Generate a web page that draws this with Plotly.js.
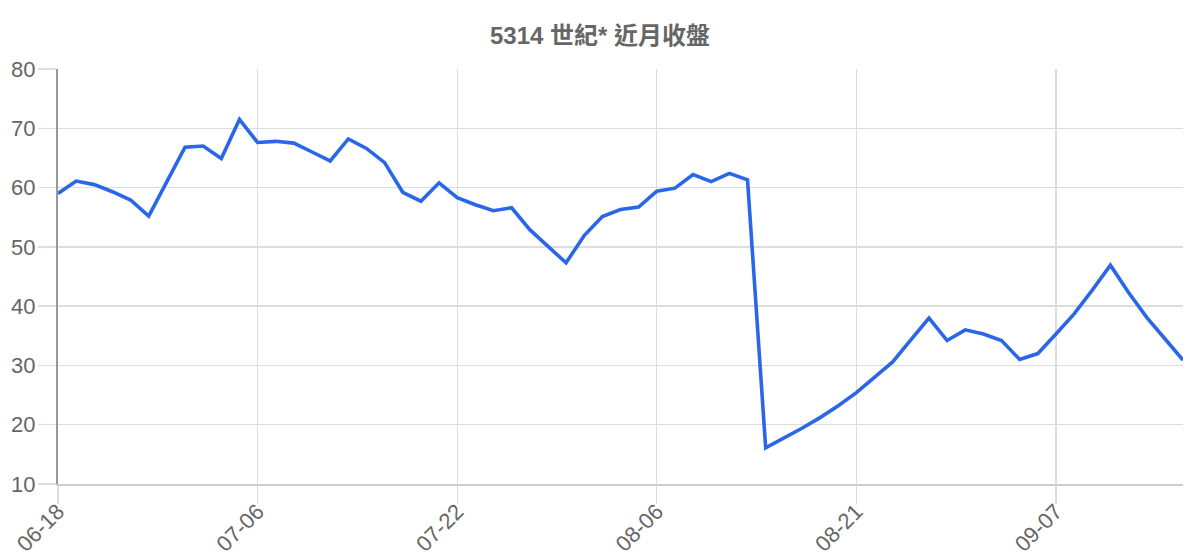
<!DOCTYPE html>
<html>
<head>
<meta charset="utf-8">
<script src="https://cdn.plot.ly/plotly-3.0.1.min.js"></script>
<style>
  html, body { margin: 0; padding: 0; background: #fff; }
  #chart { width: 1200px; height: 560px; }
</style>
</head>
<body>
<div id="chart"></div>
<script>
// trading days shown on the x axis
var dates = [
  "06-18", "06-19", "06-20", "06-21", "06-24", "06-25", "06-26", "06-27", "06-28", "07-01", "07-03",
  "07-06", "07-08", "07-09", "07-10", "07-11", "07-12", "07-15", "07-16", "07-17", "07-18", "07-19",
  "07-22", "07-23", "07-24", "07-25", "07-26", "07-29", "07-30", "07-31", "08-01", "08-02", "08-05",
  "08-06", "08-07", "08-08", "08-09", "08-12", "08-13", "08-14", "08-15", "08-16", "08-19", "08-20",
  "08-21", "08-22", "08-23", "08-26", "08-27", "08-28", "08-29", "08-30", "09-02", "09-03", "09-05",
  "09-07", "09-09", "09-10", "09-11", "09-12", "09-13", "09-16", "09-17"
];

// near-month close
var closes = [
  59.0, 61.1, 60.5, 59.3, 57.9, 55.2, 61.0, 66.8, 67.0, 64.9, 71.5,
  67.6, 67.8, 67.5, 66.0, 64.5, 68.2, 66.6, 64.2, 59.2, 57.7, 60.8,
  58.3, 57.1, 56.1, 56.6, 52.9, 50.2, 47.3, 51.9, 55.1, 56.3, 56.7,
  59.4, 59.9, 62.2, 61.0, 62.4, 61.3, 16.1, 17.7, 19.4, 21.2, 23.2,
  25.4, 28.0, 30.6, 34.3, 38.0, 34.2, 36.0, 35.3, 34.2, 31.0, 32.0,
  35.3, 38.7, 42.7, 46.9, 42.3, 38.1, 34.5, 30.9
];

var tickDates = ["06-18", "07-06", "07-22", "08-06", "08-21", "09-07"];

var fontFam = "Liberation Sans, Arial, Noto Sans CJK TC, sans-serif";

var trace = {
  x: dates,
  y: closes,
  type: "scatter",
  mode: "lines",
  line: { color: "#2a67e8", width: 3.6 },
  hoverinfo: "x+y"
};

var layout = {
  width: 1200,
  height: 560,
  margin: { l: 58, r: 17, t: 69, b: 76 },
  paper_bgcolor: "#fff",
  plot_bgcolor: "#fff",
  font: { family: fontFam, color: "#666" },
  title: {
    text: "<b>5314 世紀* 近月收盤</b>",
    x: 0.5,
    xanchor: "center",
    y: 0.937,
    yanchor: "middle",
    font: { size: 24, color: "#666", family: fontFam }
  },
  showlegend: false,
  xaxis: {
    type: "category",
    tickmode: "array",
    tickvals: tickDates,
    ticktext: tickDates,
    tickangle: -45,
    tickfont: { size: 22, color: "#666" },
    ticks: "outside",
    ticklen: 18,
    tickwidth: 1.3,
    tickcolor: "#dddddd",
    ticklabelstandoff: -14,
    showgrid: true,
    gridcolor: "#dddddd",
    gridwidth: 1.3,
    showline: true,
    linecolor: "#cccccc",
    linewidth: 2,
    zeroline: false,
    range: [0, 62]
  },
  yaxis: {
    range: [10, 80],
    dtick: 10,
    tickfont: { size: 22, color: "#666" },
    ticks: "outside",
    ticklen: 18,
    tickwidth: 1.3,
    tickcolor: "#dddddd",
    ticklabelstandoff: -2,
    showgrid: true,
    gridcolor: "#dddddd",
    gridwidth: 1.3,
    showline: true,
    linecolor: "#999999",
    linewidth: 2,
    zeroline: false
  }
};

Plotly.newPlot("chart", [trace], layout, { displayModeBar: false, staticPlot: true });
</script>
</body>
</html>
